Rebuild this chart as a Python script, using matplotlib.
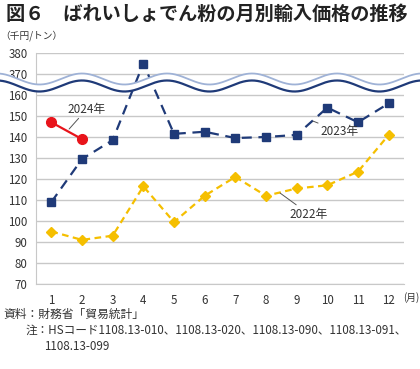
import numpy as np
import matplotlib
matplotlib.use("Agg")
import matplotlib.pyplot as plt

plt.rcParams["font.family"] = ["Noto Sans CJK JP", "DejaVu Sans"]

# ── Data ──────────────────────────────────────────────────────────────────────
months = list(range(1, 13))
month_labels = [str(m) for m in months]
price_2022 = [95, 91, 93, 116.5, 99.5, 112, 121, 112, 115.5, 117, 123.5, 141]
price_2023 = [109, 129.5, 138.5, 375, 141.5, 142.5, 139.5, 140, 141, 154, 147, 156]
price_2024 = [147, 139]
yticks = [70, 80, 90, 100, 110, 120, 130, 140, 150, 160, 370, 380]

NAVY = "#1f3a78"
GOLD = "#f5bf00"
RED = "#e8141b"
TXT = "#333333"


# ── Broken y axis (160 → 370 squeezed into one grid step) ────────────────────
def fwd(v):
    v = np.asarray(v, dtype=float)
    return np.where(v <= 160, v,
                    np.where(v >= 370, v - 200, 160 + (v - 160) * 10 / 210))


def inv(t):
    t = np.asarray(t, dtype=float)
    return np.where(t <= 160, t,
                    np.where(t >= 170, t + 200, 160 + (t - 160) * 21))


W, H = 420, 369
fig = plt.figure(figsize=(W / 100, H / 100), dpi=100)
ax = fig.add_axes([36 / W, 1 - 284 / H, (404 - 36) / W, (284 - 53) / H])
ax.set_yscale("function", functions=(fwd, inv))
ax.set_ylim(70, 380)
ax.set_xlim(0.5, 12.5)
ax.set_yticks(yticks)
ax.set_yticklabels([str(v) for v in yticks])
ax.yaxis.set_minor_locator(matplotlib.ticker.NullLocator())
ax.set_xticks(months)
ax.set_xticklabels(month_labels)
ax.tick_params(length=0, labelsize=8.3, colors=TXT)
ax.tick_params(axis="x", pad=7)
ax.tick_params(axis="y", pad=6)
ax.grid(axis="y", color="#c8c8c8", lw=1)
ax.set_axisbelow(True)
for s in ["top", "right"]:
    ax.spines[s].set_visible(False)
for s in ["left", "bottom"]:
    ax.spines[s].set_color("#c8c8c8")

ax.plot(months, price_2022, color=GOLD, lw=1.6, ls=(0, (3, 2)),
        marker="D", ms=5.5, mfc=GOLD, mec=GOLD, clip_on=False)
ax.plot(months, price_2023, color=NAVY, lw=1.6, ls=(0, (4.5, 3)),
        marker="s", ms=5.5, mfc=NAVY, mec=NAVY, clip_on=False)
ax.plot(months[:2], price_2024, color=RED, lw=1.6,
        marker="o", ms=7, mfc=RED, mec=RED)

lead = dict(arrowstyle="-", color="#555555", lw=0.7, shrinkA=0, shrinkB=0)
ax.annotate("2024年", xy=(1.58, 143.8), xytext=(2.16, 153.3),
            ha="center", va="center", fontsize=8.5, color=TXT, arrowprops=lead)
ax.annotate("2023年", xy=(9.53, 147.6), xytext=(10.41, 142.5),
            ha="center", va="center", fontsize=8.5, color=TXT, arrowprops=lead)
ax.annotate("2022年", xy=(8.46, 113.3), xytext=(9.4, 103.3),
            ha="center", va="center", fontsize=8.5, color=TXT, arrowprops=lead)

# ── Overlay in pixel coordinates: break wave + texts ─────────────────────────
ov = fig.add_axes([0, 0, 1, 1], zorder=5)
ov.set_xlim(0, W)
ov.set_ylim(H, 0)
ov.axis("off")
ov.patch.set_alpha(0)

xs = np.linspace(0, W, 600)
yc = 82.5 - 5.5 * np.sin(2 * np.pi * (xs - 60.75) / 85)
ov.fill_between(xs, yc - 3.5, yc + 3.5, color="white", lw=0)
ov.plot(xs, yc - 3.5, color="#9fb2d6", lw=1.3)
ov.plot(xs, yc + 3.5, color=NAVY, lw=1.6)

ov.text(6, 14, "図６　ばれいしょでん粉の月別輸入価格の推移", fontsize=13.8,
        fontweight="bold", color="#222222", va="center", ha="left")
ov.text(0, 36, "（千円/トン）", fontsize=7, color=TXT, va="center", ha="left")
ov.text(419, 298, "(月)", fontsize=7, color=TXT, va="center", ha="right")
ov.text(3, 314, "資料：財務省「貿易統計」", fontsize=8.5, color=TXT, va="center")
ov.text(26, 330, "注：HSコード1108.13-010、1108.13-020、1108.13-090、1108.13-091、",
        fontsize=8.4, color=TXT, va="center")
ov.text(44, 346, "1108.13-099", fontsize=8.4, color=TXT, va="center")

fig.savefig("out.png", dpi=100)
